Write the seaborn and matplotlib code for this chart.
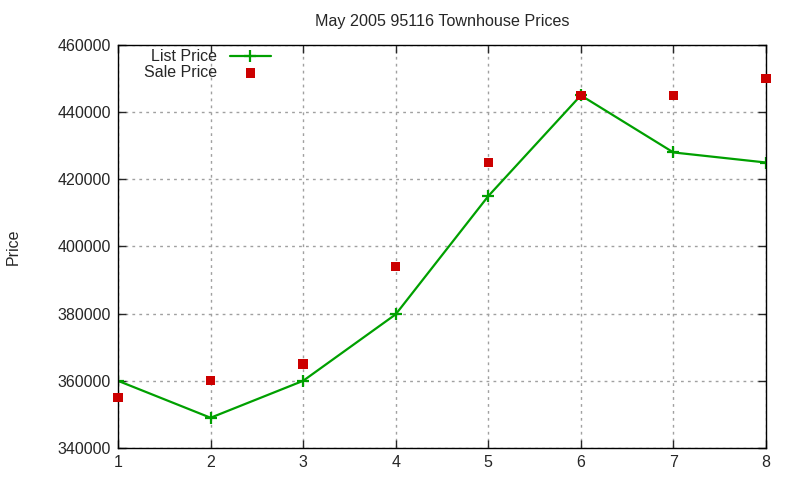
import numpy as np
import pandas as pd
import matplotlib
matplotlib.use("Agg")
import matplotlib.pyplot as plt
import seaborn as sns

# data
months = [1, 2, 3, 4, 5, 6, 7, 8]
list_price = [360000, 349000, 360000, 379800, 415000, 445000, 428000, 425000]
sale_price = [355000, 360000, 365000, 394000, 425000, 445000, 445000, 450000]

df = pd.DataFrame({"x": months, "list": list_price, "sale": sale_price})

sns.set_style("ticks")
plt.rcParams["font.family"] = ["Liberation Sans", "DejaVu Sans"]

fig = plt.figure(figsize=(8, 4.8), dpi=100)
ax = fig.add_axes([0.1475, 0.0667, 0.81, 0.8396])

sns.lineplot(data=df, x="x", y="list", ax=ax, color="#00a000", lw=1.6,
             marker="+", markersize=8, markeredgewidth=1.6,
             markeredgecolor="#00a000", label="List Price")
sns.scatterplot(data=df, x="x", y="sale", ax=ax, color="#cc0000", marker="s",
                s=45, edgecolor="none", linewidth=0, label="Sale Price",
                zorder=5, clip_on=False)

ax.set_xlim(1, 8)
ax.set_ylim(340000, 460000)
ax.set_xticks(months)
ax.set_yticks(np.arange(340000, 460001, 20000))
ax.set_yticklabels([str(v) for v in range(340000, 460001, 20000)])
ax.grid(True, color="#a0a0a0", linestyle=(0, (2, 3)), linewidth=1)
ax.tick_params(direction="in", top=True, right=True, length=6, width=1,
               labelsize=11.5, pad=5)
for s in ax.spines.values():
    s.set_linewidth(1)
    s.set_color("black")

ax.set_xlabel("")
ax.set_ylabel("Price", fontsize=11.5)
ax.yaxis.set_label_coords(-0.15, 0.5)
ax.set_title("May 2005 95116 Townhouse Prices", fontsize=11.6, pad=14)

ax.legend(loc="upper left", frameon=False, markerfirst=False, fontsize=11.5,
          handlelength=2.6, borderaxespad=0.0, labelspacing=0.05,
          bbox_to_anchor=(0.03, 1.005))

fig.savefig("out.png", dpi=100)
